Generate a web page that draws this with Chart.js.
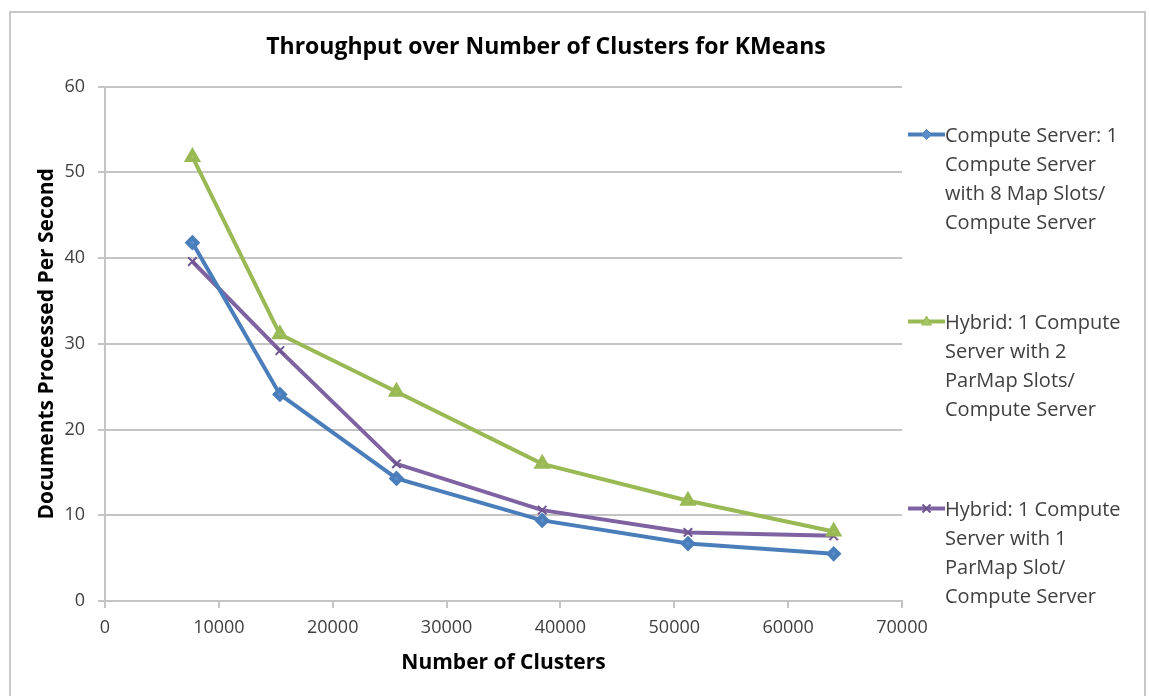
<!DOCTYPE html>
<html>
<head>
<meta charset="utf-8">
<title>Throughput over Number of Clusters for KMeans</title>
<script src="https://cdn.jsdelivr.net/npm/chart.js@4.4.1/dist/chart.umd.min.js"></script>
<style>
    body {
        margin: 0;
        background: #ffffff;
        font-family: "Open Sans", sans-serif;
    }
    #wrap {
        position: relative;
        width: 1149px;
        height: 696px;
        overflow: hidden;
    }
    #frame {
        position: absolute;
        left: 9px;
        top: 11px;
        width: 1133px;
        height: 700px;
        border: 2px solid #c8c8c8;
        border-bottom: none;
    }
    #chart {
        position: absolute;
        left: 0;
        top: 0;
    }
    #legend {
        position: absolute;
        left: 908px;
        top: 120px;
        color: #404040;
        font-size: 20px;
        line-height: 29px;
    }
    .entry {
        display: flex;
        margin-bottom: 71px;
    }
    .entry svg {
        flex: none;
        width: 37px;
        height: 29px;
    }
</style>
</head>
<body>
<div id="wrap">
    <div id="frame"></div>
    <canvas id="chart" width="1149" height="696"></canvas>
    <div id="legend"></div>
</div>
<script>
// Chart data
const clusters = [7680, 15360, 25600, 38400, 51200, 64000];
const computeServer = [41.8, 24.1, 14.3, 9.4, 6.7, 5.5];
const hybrid2Slots = [51.8, 31.1, 24.4, 16.0, 11.7, 8.1];
const hybrid1Slot = [39.6, 29.2, 16.0, 10.6, 8.0, 7.6];

const seriesLabels = [
    ['Compute Server: 1', 'Compute Server', 'with 8 Map Slots/', 'Compute Server'],
    ['Hybrid: 1 Compute', 'Server with 2', 'ParMap Slots/', 'Compute Server'],
    ['Hybrid: 1 Compute', 'Server with 1', 'ParMap Slot/', 'Compute Server']
];

const gridColor = '#c4c4c4';
const textColor = '#404040';

// Pair cluster counts with values
function toPoints(values) {
    return clusters.map((c, i) => ({ x: c, y: values[i] }));
}

function initChart() {
    const ctx = document.getElementById('chart').getContext('2d');
    return new Chart(ctx, {
        type: 'line',
        data: {
            datasets: [
                {
                    label: seriesLabels[0].join(' '),
                    data: toPoints(computeServer),
                    borderColor: '#4A7EBB',
                    backgroundColor: '#5B8CCB',
                    pointBorderColor: '#4A7EBB',
                    pointStyle: 'rectRot',
                    pointRadius: 5,
                    borderWidth: 4
                },
                {
                    label: seriesLabels[1].join(' '),
                    data: toPoints(hybrid2Slots),
                    borderColor: '#98B954',
                    backgroundColor: '#A5C663',
                    pointBorderColor: '#98B954',
                    pointStyle: 'triangle',
                    pointRadius: 6,
                    borderWidth: 4
                },
                {
                    label: seriesLabels[2].join(' '),
                    data: toPoints(hybrid1Slot),
                    borderColor: '#7E62A1',
                    backgroundColor: '#7E62A1',
                    pointBorderColor: '#6E5491',
                    pointStyle: 'crossRot',
                    pointRadius: 6,
                    pointBorderWidth: 2,
                    borderWidth: 4
                }
            ]
        },
        options: {
            responsive: false,
            animation: false,
            layout: {
                padding: { left: 30, right: 87, top: 20, bottom: 10 }
            },
            scales: {
                x: {
                    type: 'linear',
                    min: 0,
                    max: 70000,
                    grid: {
                        drawOnChartArea: false,
                        color: gridColor,
                        lineWidth: 2,
                        tickLength: 7
                    },
                    border: { color: gridColor, width: 2 },
                    ticks: {
                        stepSize: 10000,
                        padding: 9,
                        color: textColor,
                        font: { family: 'Open Sans', size: 18 },
                        maxRotation: 0,
                        callback: v => String(v)
                    },
                    title: {
                        display: true,
                        text: 'Number of Clusters',
                        color: '#000000',
                        font: { family: 'Open Sans', size: 21, weight: 'bold' },
                        padding: { top: 6, bottom: 10 }
                    },
                    afterFit: s => { s.height = 85; }
                },
                y: {
                    min: 0,
                    max: 60,
                    grid: {
                        color: gridColor,
                        lineWidth: 2,
                        tickLength: 7
                    },
                    border: { color: gridColor, width: 2 },
                    ticks: {
                        stepSize: 10,
                        padding: 13,
                        color: textColor,
                        font: { family: 'Open Sans', size: 18 }
                    },
                    title: {
                        display: true,
                        text: 'Documents Processed Per Second',
                        color: '#000000',
                        font: { family: 'Open Sans', size: 21, weight: 'bold' },
                        padding: { top: 4, bottom: 4 }
                    },
                    afterFit: s => { s.width = 75; }
                },
                // empty space on the right so the title sits where the legend column starts
                spacer: {
                    type: 'linear',
                    position: 'right',
                    display: true,
                    grid: { display: false },
                    border: { display: false },
                    ticks: { display: false },
                    afterFit: s => { s.width = 160; }
                }
            },
            plugins: {
                legend: { display: false },
                tooltip: { enabled: false },
                title: {
                    display: true,
                    text: 'Throughput over Number of Clusters for KMeans',
                    color: '#000000',
                    font: { family: 'Open Sans', size: 23, weight: 'bold' },
                    padding: { top: 14, bottom: 25 }
                }
            }
        }
    });
}

// Legend drawn as HTML so labels can wrap like the original
function buildLegend(chart) {
    const legend = document.getElementById('legend');
    chart.data.datasets.forEach((ds, i) => {
        const entry = document.createElement('div');
        entry.className = 'entry';
        let marker = '';
        if (ds.pointStyle === 'rectRot') {
            marker = `<polygon points="18.5,9.5 23.5,14.5 18.5,19.5 13.5,14.5" fill="${ds.backgroundColor}" stroke="${ds.pointBorderColor}" stroke-width="1"/>`;
        } else if (ds.pointStyle === 'triangle') {
            marker = `<polygon points="18.5,9 23.5,18 13.5,18" fill="${ds.backgroundColor}" stroke="${ds.pointBorderColor}" stroke-width="1"/>`;
        } else {
            marker = `<path d="M14.5 10.5 L22.5 18.5 M22.5 10.5 L14.5 18.5" stroke="${ds.pointBorderColor}" stroke-width="2"/>`;
        }
        entry.innerHTML = `
            <svg viewBox="0 0 37 29">
                <line x1="0" y1="14.5" x2="37" y2="14.5" stroke="${ds.borderColor}" stroke-width="4"/>
                ${marker}
            </svg>
            <div>${seriesLabels[i].join('<br>')}</div>
        `;
        legend.appendChild(entry);
    });
}

const chart = initChart();
buildLegend(chart);
</script>
</body>
</html>
